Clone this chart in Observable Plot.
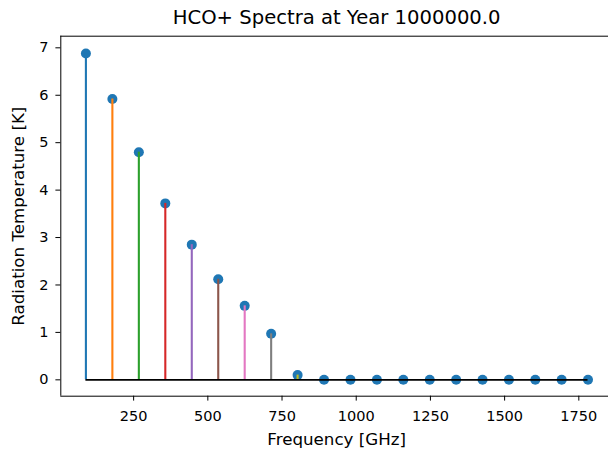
<!DOCTYPE html>
<html>
<head>
<meta charset="utf-8">
<script src="https://cdn.jsdelivr.net/npm/d3@7"></script>
<script src="https://cdn.jsdelivr.net/npm/@observablehq/plot@0.6"></script>
<style>
  html, body { margin: 0; padding: 0; background: #fff; }
  #chart { width: 608px; height: 450px; overflow: hidden; }
</style>
</head>
<body>
<div id="chart"></div>
<script>
const frequencies = [89.19, 178.38, 267.56, 356.73, 445.90, 535.06, 624.21, 713.34, 802.46, 891.56,
                     980.64, 1069.69, 1158.72, 1247.72, 1336.69, 1425.62, 1514.52, 1603.38, 1692.19, 1780.96];
const temperatures = [6.88, 5.92, 4.80, 3.72, 2.85, 2.12, 1.56, 0.97, 0.10, 0,
                      0, 0, 0, 0, 0, 0, 0, 0, 0, 0];
const stemColors = ["#1f77b4", "#ff7f0e", "#2ca02c", "#d62728", "#9467bd",
                    "#8c564b", "#e377c2", "#7f7f7f", "#bcbd22", "#17becf"];
const xTicks = [250, 500, 750, 1000, 1250, 1500, 1750];
const yTicks = [0, 1, 2, 3, 4, 5, 6, 7];
const titleText = "HCO+ Spectra at Year 1000000.0";
const xLabel = "Frequency [GHz]";
const yLabel = "Radiation Temperature [K]";

const data = frequencies.map((f, i) => ({f, t: temperatures[i], c: stemColors[i % stemColors.length]}));

const xDomain = [4.6, 1850];
const yDomain = [-0.345, 7.245];
const fontTick = 14.5;
const fontLabel = 16.7;
const fontTitle = 19.6;

const chart = Plot.plot({
  width: 608,
  height: 450,
  marginLeft: 60.3,
  marginRight: 0,
  marginTop: 35.7,
  marginBottom: 54.3,
  style: {fontFamily: "DejaVu Sans", fontSize: fontTick + "px", background: "#fff", color: "#000", overflow: "visible"},
  x: {domain: xDomain},
  y: {domain: yDomain},
  color: {type: "identity"},
  marks: [
    Plot.dot(data, {x: "f", y: "t", r: 5, fill: "#1f77b4", stroke: "none"}),
    Plot.ruleX(data, {x: "f", y1: 0, y2: "t", stroke: "c", strokeWidth: 2.1}),
    Plot.ruleY([0], {x1: frequencies[0], x2: frequencies[frequencies.length - 1], stroke: "#000", strokeWidth: 1.6}),
    Plot.ruleX([xDomain[0]], {stroke: "#000", strokeWidth: 1}),
    Plot.ruleY(yDomain, {stroke: "#000", strokeWidth: 1}),
    Plot.axisX({ticks: xTicks, tickSize: 4.9, tickPadding: 9.5, label: null, fontSize: fontTick, tickFormat: d => String(d), stroke: "#000"}),
    Plot.axisY({ticks: yTicks, tickSize: 4.9, tickPadding: 7.5, label: null, fontSize: fontTick, tickFormat: d => String(d), stroke: "#000"}),
    Plot.text([titleText], {frameAnchor: "top", lineAnchor: "middle", dy: -18.7, fontSize: fontTitle, fill: "#000", dx: 2}),
    Plot.text([xLabel], {frameAnchor: "bottom", lineAnchor: "middle", dy: 43.5, fontSize: fontLabel, fill: "#000", dx: 2}),
    Plot.text([yLabel], {frameAnchor: "left", textAnchor: "middle", lineAnchor: "middle", dx: -42, rotate: -90, fontSize: fontLabel, fill: "#000"})
  ]
});
document.getElementById("chart").appendChild(chart);
</script>
</body>
</html>
